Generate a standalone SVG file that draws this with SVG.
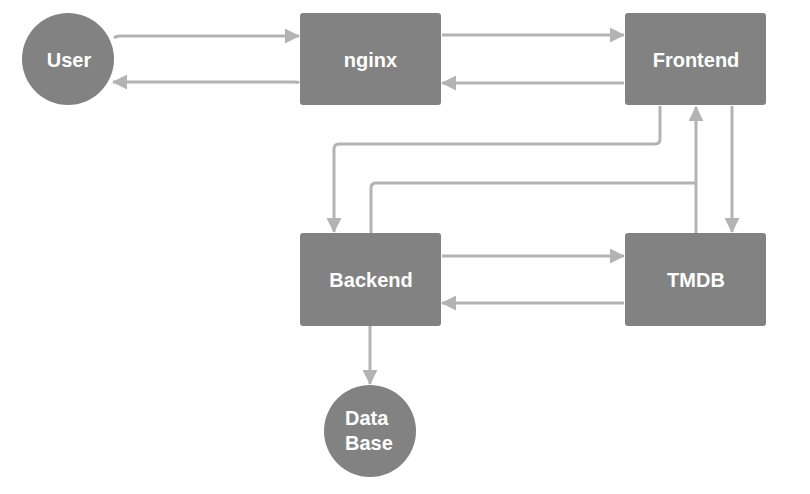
<svg xmlns="http://www.w3.org/2000/svg" width="810" height="494" viewBox="0 0 810 494">
<defs>
<marker id="ah" markerWidth="5" markerHeight="5" refX="4.7" refY="2.5" orient="auto" markerUnits="strokeWidth">
<path d="M0,0 L5,2.5 L0,5 Z" fill="#b3b3b3"/>
</marker>
<style>
.node{fill:#828282;}
.lbl{fill:#ffffff;font-family:"Liberation Sans",Arial,sans-serif;font-weight:bold;font-size:20px;text-anchor:middle;}
.c{fill:none;stroke:#b3b3b3;stroke-width:3;stroke-linejoin:round;marker-end:url(#ah);}
.c2{fill:none;stroke:#b3b3b3;stroke-width:3;stroke-linejoin:round;}
</style>
</defs>
<rect width="810" height="494" fill="#ffffff"/>
<g id="connectors">
<path class="c" d="M114,38 Q116,36 120,36 L299,36"/>
<path class="c" d="M299,83 Q298,82 294,82 L113,82"/>
<path class="c" d="M442,35 L624,35"/>
<path class="c" d="M624,83 L442,83"/>
<path class="c" d="M660,106 L660,139 Q660,144 655,144 L339,144 Q334,144 334,149 L334,232"/>
<path class="c2" d="M371,233 L371,188 Q371,183 376,183 L696,183"/>
<path class="c" d="M696,233 L696,107"/>
<path class="c" d="M732,106 L732,232"/>
<path class="c" d="M442,256 L624,256"/>
<path class="c" d="M624,303 L442,303"/>
<path class="c" d="M370,326 L370,384"/>
</g>
<g id="user">
<circle class="node" cx="68" cy="59" r="46"/>
<text class="lbl" x="69" y="67">User</text>
</g>
<g id="nginx">
<rect class="node" x="300" y="13" width="141" height="92" rx="3"/>
<text class="lbl" x="370.5" y="67">nginx</text>
</g>
<g id="frontend">
<rect class="node" x="625" y="13" width="141" height="92" rx="3"/>
<text class="lbl" x="696" y="67">Frontend</text>
</g>
<g id="backend">
<rect class="node" x="300" y="233" width="141" height="93" rx="3"/>
<text class="lbl" x="371" y="287">Backend</text>
</g>
<g id="tmdb">
<rect class="node" x="625" y="233" width="141" height="93" rx="3"/>
<text class="lbl" x="696" y="287">TMDB</text>
</g>
<g id="database">
<circle class="node" cx="370" cy="431" r="46"/>
<text class="lbl" x="345" y="425" style="text-anchor:start">Data</text>
<text class="lbl" x="345" y="450" style="text-anchor:start">Base</text>
</g>
</svg>
